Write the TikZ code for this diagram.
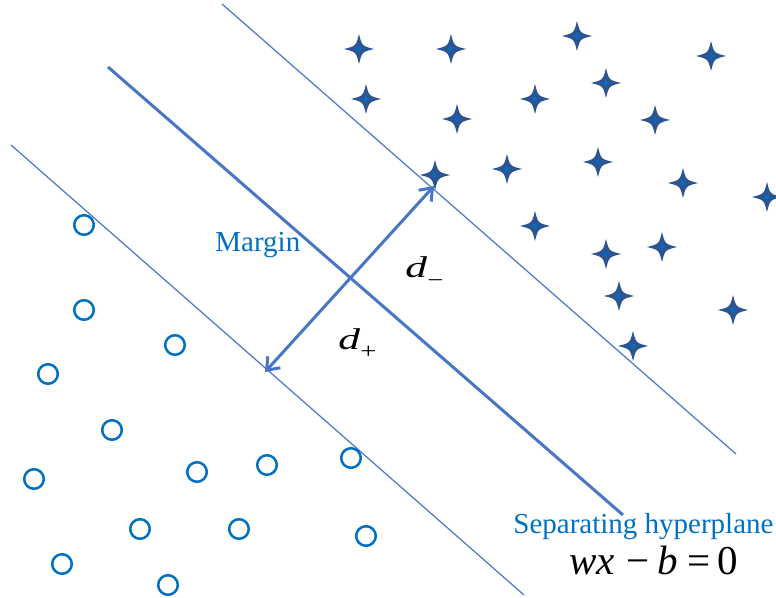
\documentclass[tikz,border=0pt]{standalone}
\usepackage{xcolor}
\usepackage{fontspec}
\setmainfont{Liberation Serif}
\usepackage{tikz}
\usetikzlibrary{arrows.meta, positioning, calc}

\definecolor{ringblue}{RGB}{0,112,192}
\definecolor{lineblue}{RGB}{72,118,196}
\definecolor{starblue}{RGB}{44,84,146}

\tikzset{
  ring/.style={circle, draw=ringblue, line width=1.25pt, minimum size=9.8pt, inner sep=0pt},
  sparkle/.pic={
    \fill[starblue] (15,0) .. controls (3,3) .. (0,15) .. controls (-3,3) .. (-15,0)
      .. controls (-3,-3) .. (0,-15) .. controls (3,-3) .. cycle;
    \fill[ringblue!80!starblue] (4,0) .. controls (1,1) .. (0,4) .. controls (-1,1) .. (-4,0)
      .. controls (-1,-1) .. (0,-4) .. controls (1,-1) .. cycle;
  },
  marginline/.style={lineblue, line width=0.6pt},
  barb/.tip={Straight Barb[length=5.5pt,width=8.5pt]},
  lbl/.style={anchor=base west, inner sep=0pt, font=\fontsize{14.5}{17}\selectfont},
  dlbl/.style={anchor=base west, inner sep=0pt, font=\fontsize{15}{18}\selectfont}
}
\newcommand{\wided}{\scalebox{1.45}[1]{\textit{d}}}
\newcommand{\subsign}[2]{\raisebox{#1}{\scalebox{1.3}[1]{\fontsize{11}{13}\selectfont #2}}}

\begin{document}
\begin{tikzpicture}[x=0.5pt, y=-0.5pt]
  \useasboundingbox (0,0) rectangle (776,598);

  % Rozhodovaci hranice a okraje
  \coordinate (up-a) at (222,4);
  \coordinate (up-b) at (736,454);
  \coordinate (hp-a) at (108,67);
  \coordinate (hp-b) at (623,515);
  \coordinate (lo-a) at (11,145);
  \coordinate (lo-b) at (524,595);
  \draw[marginline] (up-a) -- (up-b);
  \draw[marginline] (lo-a) -- (lo-b);
  \draw[lineblue, line width=1.5pt] (hp-a) -- (hp-b);

  % Sipka okraje
  \coordinate (arr-lo) at (265,372);
  \coordinate (arr-hi) at (434,186);
  \draw[lineblue, line width=1.5pt, barb-barb] (arr-lo) -- (arr-hi);

  % Kruzky
  \foreach \p [count=\i] in {(84,225),(84,310),(175,345),(48,374),(112,430),(34,479),(197,472),
      (267,465),(351,458),(140,529),(239,529),(366,536),(62,564),(168,585)}
    \node[ring] (c\i) at \p {};

  % Hvezdy
  \foreach \p [count=\i] in {(359,49),(451,49),(577,36),(711,56),(366,99),(457,119),(535,99),
      (606,83),(655,120),(507,169),(598,162),(683,183),(767,197),(435,175),(535,226),
      (606,254),(662,247),(619,296),(733,310),(633,346)}
    \pic (s\i) at \p {sparkle};

  % Popisky
  \node[lbl, text=ringblue] (margin) at (215,252) {Margin};
  \node[lbl, text=ringblue] (sep) at (513,533) {Separating hyperplane};
  \node[dlbl] (dminus) at (405,278) {\wided\subsign{-5pt}{−}};
  \node[dlbl] (dplus) at (338,350) {\wided\subsign{-4.5pt}{+}};
  \node[lbl, font=\fontsize{20.5}{24}\selectfont] (eq) at (569,574)
    {\textit{wx}\hspace{6pt}−\hspace{3.5pt}\textit{b}\hspace{5pt}=\hspace{3.5pt}0};
\end{tikzpicture}
\end{document}
